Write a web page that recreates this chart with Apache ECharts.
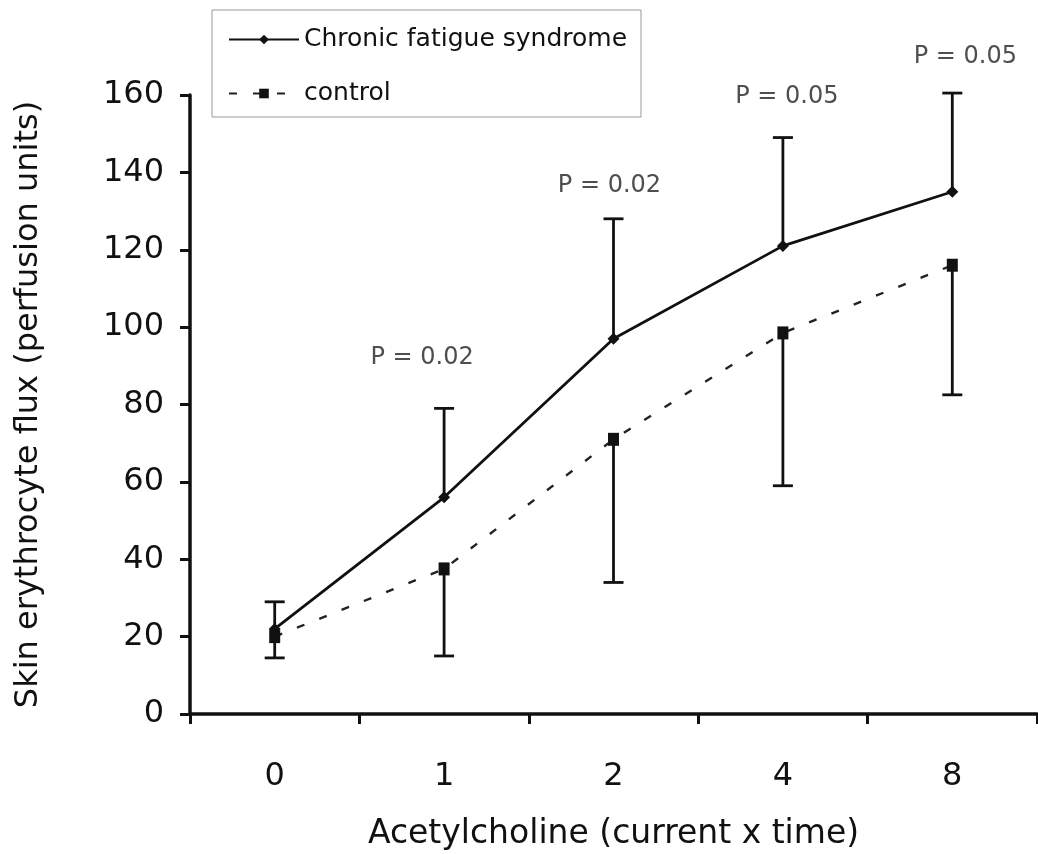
<!DOCTYPE html>
<html>
<head>
<meta charset="utf-8">
<script src="https://cdn.jsdelivr.net/npm/echarts@6/dist/echarts.min.js"></script>
<style>html,body{margin:0;padding:0;background:#fff}#c{width:1038px;height:854px}</style>
</head>
<body>
<div id="c"></div>
<script>
var categories = ['0', '1', '2', '4', '8'];
var cfsMean = [22, 56, 97, 121, 135];
var cfsUpper = [29, 79, 128, 149, 160.5];
var ctrlMean = [20, 37.5, 71, 98.5, 116];
var ctrlLower = [14.5, 15, 34, 59, 82.5];
var pLabels = ['P = 0.02', 'P = 0.02', 'P = 0.05', 'P = 0.05'];
var pCategoryIndex = [1, 2, 3, 4];
var pY = [92, 136.5, 159.5, 170];
var yTicks = [0, 20, 40, 60, 80, 100, 120, 140, 160];

var FONT = 'DejaVu Sans';

function errBarSeries(name, means, ends) {
  var data = means.map(function (m, i) { return [i, m, ends[i]]; });
  return {
    type: 'custom',
    name: name,
    silent: true,
    z: 3,
    data: data,
    renderItem: function (params, api) {
      var x = api.value(0);
      var p1 = api.coord([x, api.value(1)]);
      var p2 = api.coord([x, api.value(2)]);
      var hw = 10;
      var st = { stroke: '#111', lineWidth: 2.8, fill: null };
      return {
        type: 'group',
        children: [
          { type: 'line', shape: { x1: p1[0], y1: p1[1], x2: p2[0], y2: p2[1] }, style: st },
          { type: 'line', shape: { x1: p2[0] - hw, y1: p2[1], x2: p2[0] + hw, y2: p2[1] }, style: st }
        ]
      };
    },
    clip: false
  };
}

var chart = echarts.init(document.getElementById('c'), null, { renderer: 'canvas' });
chart.setOption({
  backgroundColor: '#fff',
  animation: false,
  textStyle: { fontFamily: FONT },
  grid: { left: 190, right: 1, top: 95, bottom: 140, containLabel: false, outerBoundsMode: 'none' },
  legend: {
    orient: 'vertical',
    left: 212,
    top: 10,
    padding: [17, 14, 11, 16],
    itemWidth: 70,
    itemHeight: 12,
    itemGap: 29,
    borderColor: '#999',
    borderWidth: 1,
    textStyle: { fontFamily: FONT, fontSize: 25, color: '#111' },
    data: ['Chronic fatigue syndrome', 'control']
  },
  xAxis: {
    type: 'category',
    data: categories,
    boundaryGap: true,
    name: 'Acetylcholine (current x time)',
    nameLocation: 'middle',
    nameGap: 104,
    nameTextStyle: { fontFamily: FONT, fontSize: 33, color: '#111' },
    axisLine: { lineStyle: { color: '#111', width: 3.5 } },
    axisTick: { show: true, length: 10, inside: false, lineStyle: { color: '#111', width: 3 } },
    axisLabel: { fontFamily: FONT, fontSize: 32, color: '#111', margin: 47 },
    splitLine: { show: false }
  },
  yAxis: {
    type: 'value',
    min: 0,
    max: 160,
    interval: 20,
    name: 'Skin erythrocyte flux (perfusion units)',
    nameLocation: 'middle',
    nameGap: 145,
    nameRotate: 90,
    nameTextStyle: { fontFamily: FONT, fontSize: 32, color: '#111' },
    axisLine: { show: true, lineStyle: { color: '#111', width: 3.5 } },
    axisTick: { show: true, length: 10, inside: false, lineStyle: { color: '#111', width: 3 } },
    axisLabel: {
      fontFamily: FONT, fontSize: 32, color: '#111', margin: 26,
      formatter: function (v) { return yTicks.indexOf(v) >= 0 ? String(v) : ''; }
    },
    splitLine: { show: false }
  },
  series: [
    {
      name: 'Chronic fatigue syndrome',
      type: 'line',
      data: cfsMean,
      z: 5,
      symbol: 'diamond',
      symbolSize: [12, 12],
      showSymbol: true,
      itemStyle: { color: '#111' },
      lineStyle: { color: '#111', width: 2.8 }
    },
    {
      name: 'control',
      type: 'line',
      data: ctrlMean,
      z: 4,
      symbol: 'rect',
      symbolSize: [11, 13],
      itemStyle: { color: '#111' },
      lineStyle: { color: '#222', width: 2.4, type: [8, 16] }
    },
    errBarSeries('cfsErr', cfsMean, cfsUpper),
    errBarSeries('ctrlErr', ctrlMean, ctrlLower),
    {
      type: 'scatter',
      name: 'pvals',
      silent: true,
      clip: false,
      symbolSize: 0,
      data: pLabels.map(function (t, i) {
        var offs = [[-22, 0], [-4, 0], [4, 0], [13, 0]];
        return {
          value: [pCategoryIndex[i], pY[i]],
          label: { show: true, formatter: t, position: 'inside', offset: offs[i],
            fontFamily: FONT, fontSize: 24, color: '#222' }
        };
      })
    }
  ]
});
</script>
</body>
</html>
